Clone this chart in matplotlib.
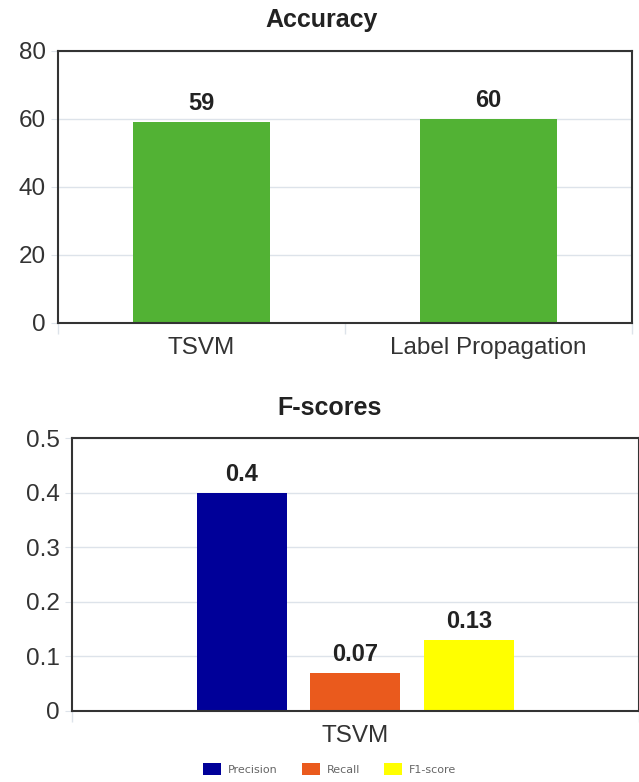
import matplotlib.pyplot as plt
import numpy as np

plt.rcParams['font.family'] = ['Liberation Sans', 'DejaVu Sans']

# data
acc_labels = ['TSVM', 'Label Propagation']
acc_values = [59, 60]
f_group = ['TSVM']
f_names = ['Precision', 'Recall', 'F1-score']
f_values = [0.4, 0.07, 0.13]
f_colors = ['#000099', '#ea5a1d', '#ffff00']

fig = plt.figure(figsize=(6.39, 7.82), dpi=100)
frame_c = '#333333'
grid_c = '#dde3ea'
tick_c = '#333333'


def style(ax, ymax, yticks, nx):
    ax.set_ylim(0, ymax)
    ax.set_yticks(yticks)
    ax.set_xlim(-0.5, nx - 0.5)
    ax.grid(axis='y', color=grid_c, lw=1)
    ax.set_axisbelow(True)
    for s in ax.spines.values():
        s.set_color(frame_c)
        s.set_linewidth(1.5)
    ax.tick_params(axis='y', length=5, color=grid_c, labelsize=17.5, labelcolor=tick_c, pad=4)
    ax.tick_params(axis='x', which='major', length=0, labelsize=17.5, labelcolor=tick_c, pad=10)
    ax.set_xticks(np.arange(-0.5, nx, 1.0), minor=True)
    ax.tick_params(axis='x', which='minor', length=8, color=grid_c, width=1)


# top chart: accuracy
ax1 = fig.add_axes([0.0908, 0.587, 0.898, 0.348])
x1 = np.arange(len(acc_labels))
bars = ax1.bar(x1, acc_values, width=0.48, color='#52b234')
style(ax1, 80, [0, 20, 40, 60, 80], len(acc_labels))
ax1.set_xticks(x1)
ax1.set_xticklabels(acc_labels)
ax1.bar_label(bars, labels=[str(v) for v in acc_values], padding=5,
              fontsize=17, fontweight='bold', color='#222222')
ax1.set_title('Accuracy', fontsize=18, fontweight='bold', color='#222222',
              pad=17, x=0.46)

# bottom chart: f-scores
ax2 = fig.add_axes([0.1127, 0.0908, 0.887, 0.349])
w = 0.159
offs = [-0.2, 0.0, 0.2]
handles = []
for name, v, c, o in zip(f_names, f_values, f_colors, offs):
    b = ax2.bar([o], [v], width=w, color=c, label=name)
    ax2.bar_label(b, labels=[str(v)], padding=5, fontsize=17,
                  fontweight='bold', color='#222222')
    handles.append(b)
style(ax2, 0.5, [0, 0.1, 0.2, 0.3, 0.4, 0.5], len(f_group))
ax2.set_yticklabels(['0', '0.1', '0.2', '0.3', '0.4', '0.5'])
ax2.set_xticks([0])
ax2.set_xticklabels(f_group)
ax2.set_title('F-scores', fontsize=18, fontweight='bold', color='#222222',
              pad=16.5, x=0.455)

leg = fig.legend(handles=handles, labels=f_names, loc='lower center',
                 bbox_to_anchor=(0.516, -0.004), ncol=3, frameon=False,
                 fontsize=8, handlelength=1.6, handleheight=1.3,
                 columnspacing=2.2, handletextpad=0.6)
for t in leg.get_texts():
    t.set_color('#666666')
    t.set_family('DejaVu Sans')

fig.savefig('out.png', dpi=100)
